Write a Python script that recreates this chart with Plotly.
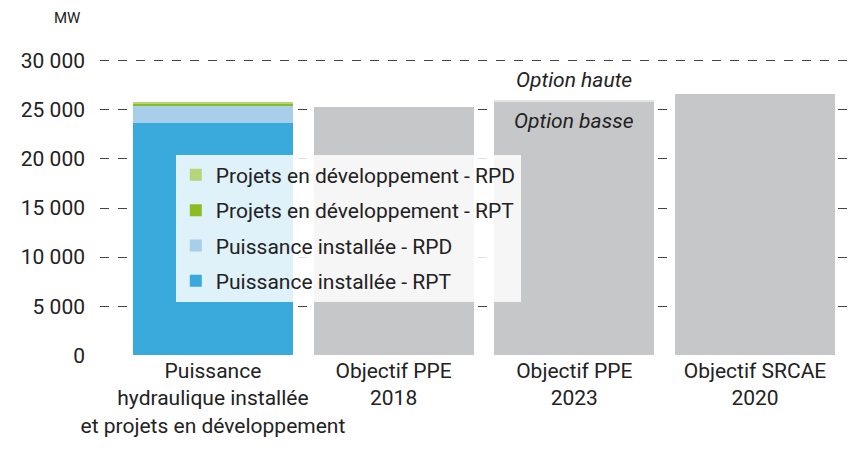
import plotly.graph_objects as go

# categories (x axis)
categories = [
    "Puissance<br>hydraulique installée<br>et projets en développement",
    "Objectif PPE<br>2018",
    "Objectif PPE<br>2023",
    "Objectif SRCAE<br>2020",
]

# series (MW)
installee_rpt = [23700, None, None, None]
installee_rpd = [1700, None, None, None]
projets_rpt = [200, None, None, None]
projets_rpd = [200, None, None, None]
objectif = [None, 25300, 25800, 26600]        # option basse pour PPE 2023
option_haute_sup = [None, None, 250, None]    # écart option haute - option basse

y_ticks = [0, 5000, 10000, 15000, 20000, 25000, 30000]
y_labels = ["0", "5 000", "10 000", "15 000", "20 000", "25 000", "30 000"]

FONT = "Roboto, 'Liberation Sans', sans-serif"

fig = go.Figure()

series = [
    ("Puissance installée - RPT", installee_rpt, "#3aa9db", 4),
    ("Puissance installée - RPD", installee_rpd, "#a8cfea", 3),
    ("Projets en développement - RPT", projets_rpt, "#8cbc24", 2),
    ("Projets en développement - RPD", projets_rpd, "#b6d57a", 1),
]
for i, (nom, vals, col, rang) in enumerate(series):
    fig.add_trace(go.Bar(
        x=categories, y=vals, name=nom, marker_color=col,
        marker_line_width=0, legendgroup=f"g{rang}", legendrank=rang,
    ))

fig.add_trace(go.Bar(x=categories, y=objectif, marker_color="#c6c7c8",
                     marker_line_width=0, showlegend=False))
fig.add_trace(go.Bar(x=categories, y=option_haute_sup, marker_color="#e3e3e3",
                     marker_line_width=0, showlegend=False))

fig.add_annotation(x=categories[2], y=26050, yshift=20, text="<i>Option haute</i>",
                   showarrow=False, font=dict(size=21, color="#222"))
fig.add_annotation(x=categories[2], y=25800, yshift=-19, text="<i>Option basse</i>",
                   showarrow=False, font=dict(size=21, color="#222"))
fig.add_annotation(x=-0.044, xref="paper", y=1.109, yref="paper", text="MW",
                   showarrow=False, xanchor="center", yanchor="middle",
                   font=dict(size=15, color="#222"))

# la page html ajoute une marge de 8 px autour du graphique
fig.update_layout(
    width=850, height=446,
    margin=dict(l=92, r=0, t=43, b=98),
    barmode="stack",
    bargap=0.115,
    plot_bgcolor="white", paper_bgcolor="white",
    font=dict(family=FONT, size=21, color="#222"),
    legend=dict(
        x=0.1, y=0.66, xanchor="left", yanchor="top",
        bgcolor="rgba(255,255,255,0.84)",
        font=dict(size=21, color="#222"),
        traceorder="grouped",
        tracegroupgap=5,
        itemwidth=30,
    ),
    showlegend=True,
)
fig.update_xaxes(range=[-0.625, 3.57], showgrid=False, showline=False, ticks="",
                 tickangle=0, tickfont=dict(size=21), automargin=False)
fig.update_yaxes(range=[-80, 31000], tickvals=y_ticks, ticktext=y_labels,
                 showgrid=True, gridcolor="#444", gridwidth=1, griddash="dash",
                 zeroline=False, showline=False, ticks="", ticklabelstandoff=14,
                 tickfont=dict(size=21), automargin=False)

fig.write_html("out.html")
